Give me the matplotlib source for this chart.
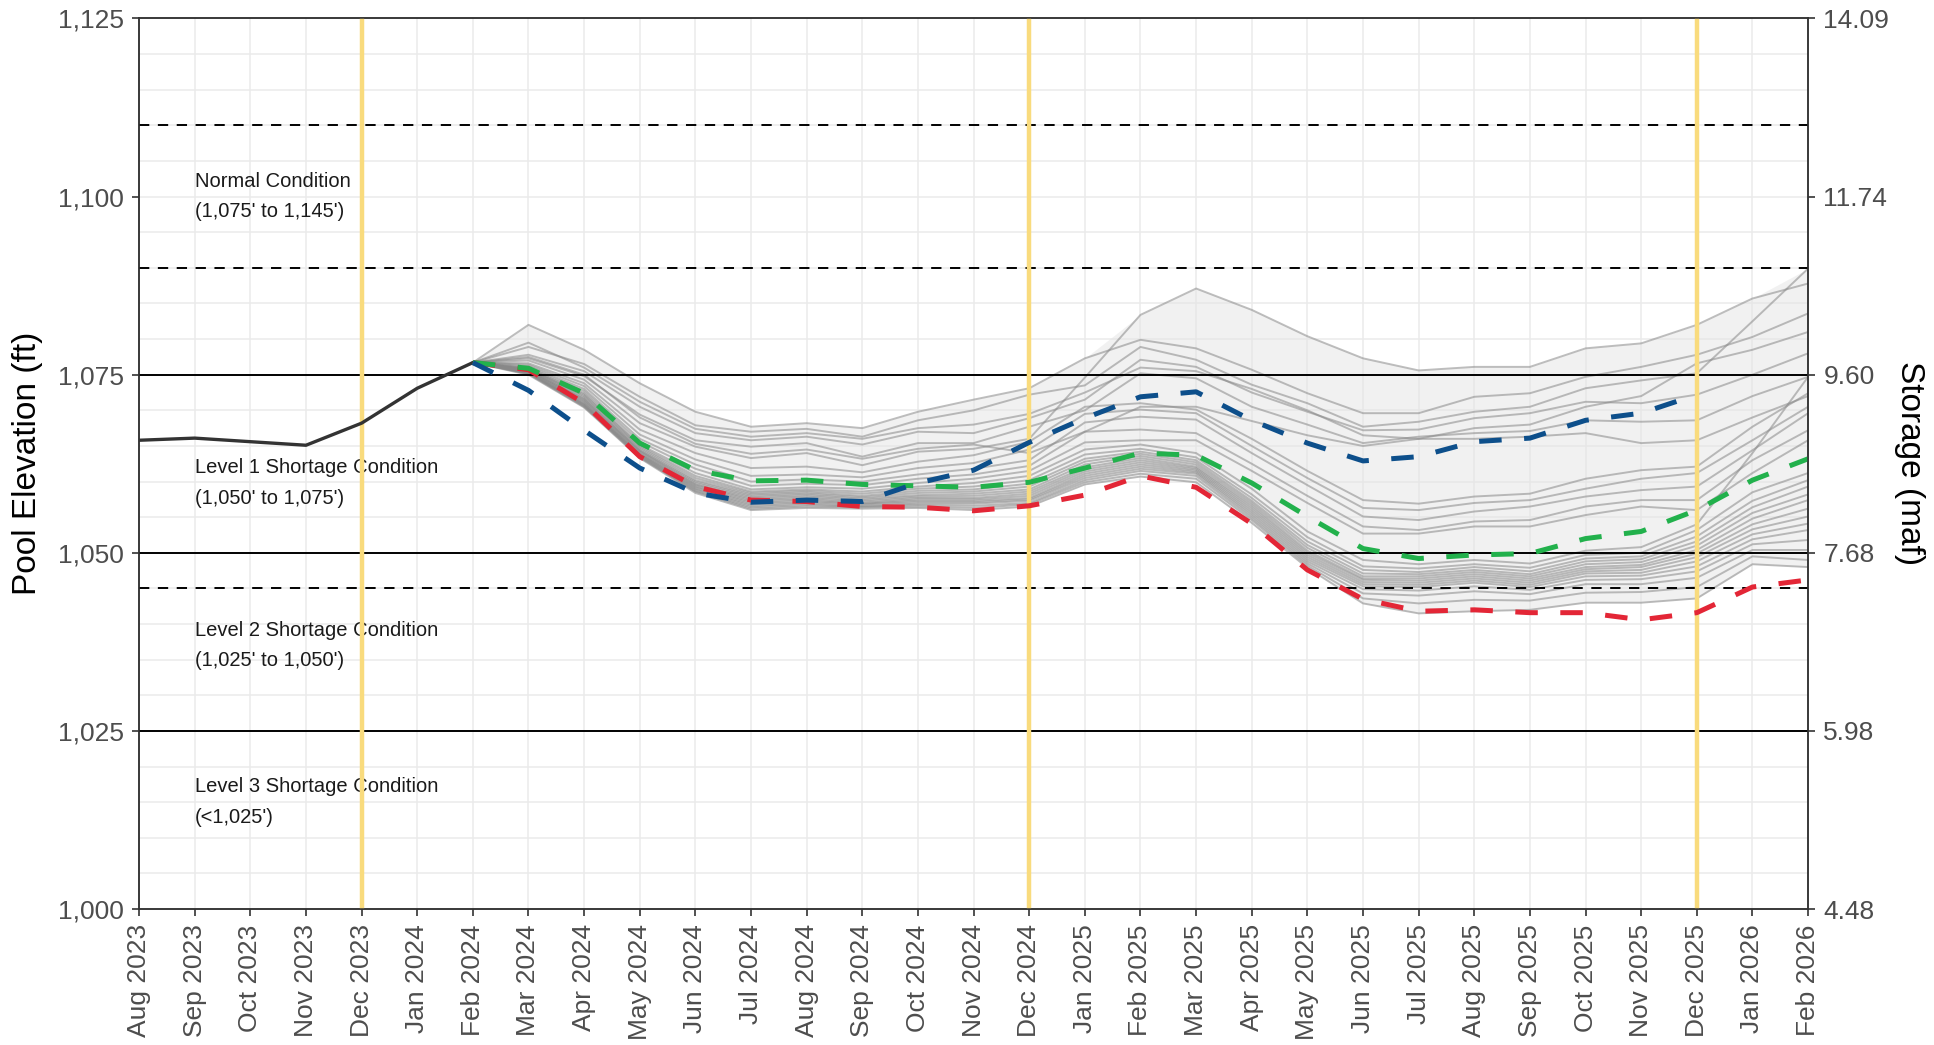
import numpy as np
import matplotlib
matplotlib.use("Agg")
import matplotlib.pyplot as plt

plt.rcParams['font.family'] = ['Liberation Sans', 'DejaVu Sans']

# month labels (Aug 2023 .. Feb 2026)
months = ["Aug 2023", "Sep 2023", "Oct 2023", "Nov 2023", "Dec 2023", "Jan 2024",
          "Feb 2024", "Mar 2024", "Apr 2024", "May 2024", "Jun 2024", "Jul 2024",
          "Aug 2024", "Sep 2024", "Oct 2024", "Nov 2024", "Dec 2024", "Jan 2025",
          "Feb 2025", "Mar 2025", "Apr 2025", "May 2025", "Jun 2025", "Jul 2025",
          "Aug 2025", "Sep 2025", "Oct 2025", "Nov 2025", "Dec 2025", "Jan 2026",
          "Feb 2026"]

# historical elevations, Aug 2023 - Feb 2024
hist = [1065.8, 1066.1, 1065.6, 1065.1, 1068.2, 1073.1, 1076.7]

# scenario runs, starting Feb 2024
blue = [1076.7, 1072.8, 1067.2, 1061.9, 1058.4, 1057.1, 1057.4, 1057.2, 1059.8, 1061.6,
        1065.5, 1068.9, 1071.9, 1072.6, 1068.6, 1065.4, 1062.9, 1063.5, 1065.6, 1066.1,
        1068.6, 1069.6, 1072.2]
green = [1076.7, 1075.9, 1072.4, 1065.4, 1061.6, 1060.1, 1060.2, 1059.6, 1059.4, 1059.2,
         1059.9, 1061.9, 1064.0, 1063.7, 1059.8, 1055.1, 1050.6, 1049.2, 1049.7, 1049.9,
         1052.0, 1053.0, 1056.0, 1060.2, 1063.2]
red = [1076.7, 1075.7, 1071.0, 1063.5, 1059.3, 1057.4, 1057.2, 1056.5, 1056.4, 1055.9,
       1056.6, 1058.1, 1060.8, 1059.2, 1054.1, 1047.6, 1043.5, 1041.8, 1042.0, 1041.6,
       1041.6, 1040.6, 1041.6, 1045.2, 1046.2]

# ensemble traces, Feb 2024 - Feb 2026
upper_traces = [
    [1076.7, 1082.0, 1078.5, 1073.8, 1069.8, 1067.7, 1068.2, 1067.5, 1069.8, 1071.5, 1073.1, 1077.3, 1079.9,
     1078.7, 1075.7, 1072.4, 1069.6, 1069.6, 1071.9, 1072.4, 1074.7, 1076.1, 1077.8, 1080.3, 1083.6],
    [1076.7, 1078.9, 1076.5, 1071.9, 1067.9, 1067.0, 1067.4, 1066.3, 1068.6, 1070.0, 1072.2, 1073.5, 1078.9,
     1077.1, 1073.6, 1071.0, 1067.7, 1068.4, 1069.8, 1070.5, 1073.1, 1074.2, 1075.2, 1082.5, 1089.9],
    [1076.7, 1077.8, 1075.5, 1070.5, 1066.8, 1065.8, 1066.3, 1065.2, 1067.0, 1066.8, 1068.9, 1071.5, 1077.1,
     1076.1, 1072.5, 1069.8, 1067.2, 1067.3, 1068.9, 1069.6, 1071.2, 1071.0, 1072.2, 1075.0, 1078.0],
    [1076.7, 1077.3, 1074.8, 1069.4, 1065.8, 1064.9, 1065.4, 1063.5, 1065.4, 1065.4, 1067.7, 1070.0, 1075.2,
     1074.5, 1070.5, 1068.0, 1065.4, 1066.3, 1066.8, 1067.1, 1068.6, 1068.4, 1068.6, 1072.0, 1074.7],
    [1076.7, 1077.0, 1074.3, 1068.2, 1064.9, 1063.3, 1064.0, 1062.3, 1064.2, 1064.6, 1066.0, 1074.6, 1083.4,
     1087.1, 1084.1, 1080.4, 1077.3, 1075.6, 1076.1, 1076.1, 1078.7, 1079.4, 1082.0, 1085.7, 1087.8],
    [1076.7, 1079.5, 1076.0, 1071.2, 1067.4, 1066.3, 1066.8, 1066.0, 1067.5, 1068.0, 1069.5, 1072.5, 1076.0,
     1075.5, 1073.0, 1070.0, 1066.5, 1066.0, 1067.5, 1068.0, 1070.5, 1072.0, 1076.6, 1078.5, 1081.0],
    [1076.7, 1077.5, 1075.0, 1069.0, 1065.3, 1063.9, 1064.5, 1063.2, 1064.6, 1065.2, 1064.0, 1067.0, 1070.5,
     1070.5, 1068.5, 1066.5, 1065.0, 1066.0, 1066.0, 1066.3, 1066.8, 1065.4, 1065.8, 1069.0, 1072.0],
    [1076.7, 1076.6, 1073.8, 1067.3, 1064.0, 1061.9, 1062.1, 1061.3, 1062.8, 1063.7, 1065.6, 1070.5, 1071.0,
     1070.1, 1066.0, 1061.5, 1057.4, 1056.9, 1057.9, 1058.3, 1060.4, 1061.6, 1062.1, 1067.7, 1072.4],
    [1076.7, 1076.4, 1073.4, 1066.6, 1063.1, 1060.8, 1061.0, 1060.6, 1061.9, 1062.6, 1064.5, 1069.5, 1070.1,
     1069.6, 1065.0, 1060.5, 1056.3, 1056.0, 1057.0, 1057.4, 1059.0, 1060.4, 1061.2, 1065.8, 1070.5],
    [1076.7, 1076.2, 1073.0, 1066.0, 1062.4, 1060.0, 1060.3, 1060.0, 1061.0, 1061.8, 1063.0, 1068.3, 1069.1,
     1068.7, 1064.0, 1059.5, 1055.1, 1054.6, 1055.8, 1056.5, 1057.9, 1058.8, 1059.3, 1064.4, 1069.6],
    [1076.7, 1076.0, 1072.7, 1065.6, 1061.8, 1059.4, 1059.7, 1059.5, 1060.4, 1061.0, 1062.2, 1067.0, 1067.3,
     1066.8, 1062.5, 1058.0, 1053.7, 1053.2, 1054.4, 1054.6, 1056.5, 1057.4, 1057.4, 1063.0, 1067.2],
    [1076.7, 1075.9, 1072.4, 1065.2, 1061.2, 1058.9, 1059.2, 1059.0, 1059.8, 1060.4, 1061.5, 1065.5, 1065.8,
     1065.8, 1061.5, 1057.0, 1052.7, 1052.7, 1053.7, 1053.7, 1055.3, 1056.5, 1056.0, 1061.2, 1065.8],
]
lower_traces = [
    [1076.7, 1075.8, 1072.2, 1065.0, 1060.8, 1058.6, 1058.9, 1058.6, 1059.3, 1059.8, 1060.8, 1064.5, 1065.2,
     1064.0, 1059.0, 1053.0, 1049.0, 1048.4, 1049.0, 1048.5, 1050.3, 1050.8, 1054.0, 1064.0, 1074.7],
    [1076.7, 1075.8, 1072.0, 1064.8, 1060.5, 1058.4, 1058.7, 1058.3, 1059.0, 1059.3, 1060.2, 1063.8, 1064.6,
     1063.4, 1058.2, 1052.2, 1048.1, 1047.8, 1048.4, 1047.9, 1049.7, 1050.0, 1053.2, 1058.5, 1061.2],
    [1076.7, 1075.7, 1071.8, 1064.6, 1060.2, 1058.2, 1058.5, 1058.0, 1058.7, 1058.9, 1059.7, 1063.2, 1064.2,
     1063.0, 1057.7, 1051.6, 1047.6, 1047.3, 1048.0, 1047.4, 1049.2, 1049.5, 1052.3, 1057.3, 1060.2],
    [1076.7, 1075.6, 1071.6, 1064.4, 1060.0, 1058.0, 1058.3, 1057.8, 1058.4, 1058.6, 1059.3, 1062.8, 1063.9,
     1062.7, 1057.3, 1051.1, 1047.1, 1047.0, 1047.6, 1047.0, 1048.8, 1049.1, 1051.6, 1056.4, 1059.3],
    [1076.7, 1075.6, 1071.5, 1064.3, 1059.8, 1057.8, 1058.1, 1057.6, 1058.1, 1058.3, 1058.9, 1062.4, 1063.6,
     1062.4, 1057.0, 1050.7, 1046.7, 1046.7, 1047.3, 1046.7, 1048.4, 1048.7, 1051.0, 1055.6, 1058.2],
    [1076.7, 1075.5, 1071.3, 1064.2, 1059.6, 1057.6, 1057.9, 1057.4, 1057.9, 1058.0, 1058.6, 1062.0, 1063.3,
     1062.1, 1056.7, 1050.3, 1046.4, 1046.4, 1047.0, 1046.4, 1048.0, 1048.3, 1050.4, 1054.8, 1057.4],
    [1076.7, 1075.5, 1071.2, 1064.0, 1059.5, 1057.4, 1057.7, 1057.2, 1057.7, 1057.7, 1058.3, 1061.7, 1063.0,
     1061.9, 1056.4, 1050.0, 1046.2, 1046.1, 1046.7, 1046.1, 1047.7, 1048.0, 1049.9, 1054.0, 1056.2],
    [1076.7, 1075.4, 1071.0, 1063.9, 1059.3, 1057.2, 1057.5, 1057.0, 1057.5, 1057.5, 1058.0, 1061.4, 1062.7,
     1061.7, 1056.1, 1049.7, 1045.9, 1045.8, 1046.4, 1045.8, 1047.4, 1047.6, 1049.4, 1053.3, 1055.1],
    [1076.7, 1075.3, 1070.9, 1063.8, 1059.2, 1057.0, 1057.3, 1056.9, 1057.3, 1057.3, 1057.7, 1061.1, 1062.4,
     1061.5, 1055.8, 1049.4, 1045.6, 1045.5, 1046.1, 1045.5, 1047.1, 1047.2, 1048.8, 1052.6, 1054.1],
    [1076.7, 1075.3, 1070.8, 1063.7, 1059.0, 1056.8, 1057.1, 1056.8, 1057.1, 1057.1, 1057.5, 1060.8, 1062.1,
     1061.3, 1055.5, 1049.1, 1045.3, 1045.2, 1045.8, 1045.2, 1046.7, 1046.8, 1048.1, 1051.9, 1053.2],
    [1076.7, 1075.2, 1070.7, 1063.6, 1058.9, 1056.6, 1056.9, 1056.6, 1056.9, 1056.9, 1057.3, 1060.5, 1061.8,
     1061.1, 1055.2, 1048.8, 1044.9, 1044.7, 1045.3, 1044.8, 1046.2, 1046.3, 1047.4, 1051.2, 1051.8],
    [1076.7, 1075.2, 1070.6, 1063.5, 1058.7, 1056.4, 1056.7, 1056.5, 1056.7, 1056.6, 1057.0, 1060.2, 1061.5,
     1060.8, 1054.9, 1048.5, 1044.3, 1044.0, 1044.6, 1044.2, 1045.6, 1045.6, 1046.5, 1050.4, 1050.4],
    [1076.7, 1075.1, 1070.5, 1063.4, 1058.6, 1056.2, 1056.5, 1056.4, 1056.5, 1056.3, 1056.8, 1059.9, 1061.1,
     1060.4, 1054.6, 1048.2, 1043.6, 1042.9, 1043.4, 1043.3, 1044.4, 1044.5, 1045.2, 1049.5, 1049.0],
    [1076.7, 1075.0, 1070.4, 1063.3, 1058.4, 1056.0, 1056.3, 1056.2, 1056.3, 1056.0, 1056.5, 1059.6, 1060.7,
     1059.9, 1054.2, 1047.9, 1042.9, 1041.5, 1041.8, 1042.0, 1043.0, 1043.0, 1043.6, 1048.4, 1048.0],
]

elev_ticks = [1000, 1025, 1050, 1075, 1100, 1125]
storage_labels = ["4.48", "5.98", "7.68", "9.60", "11.74", "14.09"]
solid_levels = [1075, 1050, 1025]
dashed_levels = [1110, 1090, 1045]
december_marks = ["Dec 2023", "Dec 2024", "Dec 2025"]
zone_labels = ["Normal Condition\n(1,075' to 1,145')",
               "Level 1 Shortage Condition\n(1,050' to 1,075')",
               "Level 2 Shortage Condition\n(1,025' to 1,050')",
               "Level 3 Shortage Condition\n(<1,025')"]
zone_y = [1100, 1059.8, 1037, 1015]

x_all = np.arange(len(months))
start = months.index("Feb 2024")
x_fc = np.arange(start, start + len(green))
traces = np.array(upper_traces + lower_traces)

fig = plt.figure(figsize=(19.34, 10.45), dpi=100)
ax = fig.add_axes([0.0719, 0.1301, 0.8630, 0.8522])

# envelope + traces
ax.fill_between(x_fc, traces.min(axis=0), traces.max(axis=0), color='#E4E4E4', alpha=0.5,
                lw=0, zorder=1)
for tr in traces:
    ax.plot(x_fc, tr, color='#888888', alpha=0.55, lw=1.4, zorder=2)

# condition lines
for lv in solid_levels:
    ax.axhline(lv, color='black', lw=1.4, zorder=3)
for lv in dashed_levels:
    ax.axhline(lv, color='black', lw=1.4, dashes=(5.3, 4.4), zorder=3)

for i, txt in enumerate(zone_labels):
    ax.text(1, zone_y[i], txt, ha='left', va='center', fontsize=14.5, color='#1A1A1A',
            linespacing=1.76, zorder=3)

for m in december_marks:
    ax.axvline(months.index(m), color='#F9DB7D', lw=3.2, zorder=3.5)

ax.plot(x_all[:len(hist)], hist, color='#333333', lw=2.4, zorder=4)
ax.plot(x_fc, red, color='#E32636', lw=3.6, dashes=(4.5, 4.5), zorder=5)
ax.plot(x_fc, green, color='#22B14C', lw=3.6, dashes=(4.5, 4.5), zorder=5)
ax.plot(x_fc[:len(blue)], blue, color='#0D4F8B', lw=3.6, dashes=(4.5, 4.5), zorder=5)

ax.set_xlim(0, len(months) - 1)
ax.set_ylim(1000, 1125)
ax.set_xticks(x_all)
ax.set_xticklabels(months, rotation=90)
ax.set_yticks(elev_ticks)
ax.set_yticklabels([f"{v:,}" for v in elev_ticks])
ax.set_yticks(np.arange(1000, 1126, 5), minor=True)
ax.grid(which='both', color='#EBEBEB', lw=1.1)
ax.set_axisbelow(True)
ax.tick_params(which='major', length=5, width=1.2, color='#333333', labelsize=19,
               labelcolor='#4D4D4D', pad=6)
ax.tick_params(which='minor', length=0)
for sp in ax.spines.values():
    sp.set_color('#333333')
    sp.set_linewidth(1.1)

ax2 = ax.twinx()
ax2.set_ylim(ax.get_ylim())
ax2.set_yticks(elev_ticks)
ax2.set_yticklabels(storage_labels)
ax2.tick_params(length=5, width=1.2, color='#333333', labelsize=19, labelcolor='#4D4D4D', pad=6)
for sp in ax2.spines.values():
    sp.set_color('#333333')
    sp.set_linewidth(1.1)

fig.text(28 / 1934, 1 - 463 / 1045, "Pool Elevation (ft)", rotation=90, ha='center', va='center',
         fontsize=24, color='black')
fig.text(1910 / 1934, 1 - 463 / 1045, "Storage (maf)", rotation=270, ha='center', va='center',
         fontsize=24, color='black')

fig.savefig("out.png", dpi=100)
